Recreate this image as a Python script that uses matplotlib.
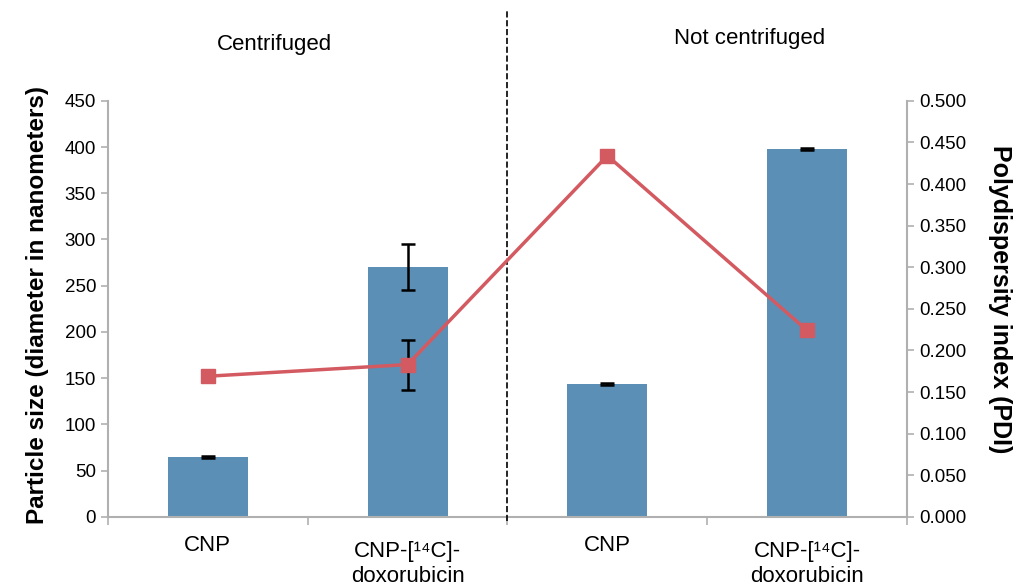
import matplotlib
matplotlib.use('Agg')
import matplotlib.pyplot as plt

plt.rcParams['font.family'] = ['Liberation Sans', 'DejaVu Sans']

# Data
categories = ['CNP', 'CNP-[\u00b9\u2074C]-\ndoxorubicin', 'CNP', 'CNP-[\u00b9\u2074C]-\ndoxorubicin']
size_nm = [65, 270, 144, 398]
size_err = [1, 25, 1, 1]
pdi = [0.169, 0.183, 0.434, 0.224]
pdi_err = [0, 0.03, 0, 0]
group_labels = ['Centrifuged', 'Not centrifuged']

bar_color = '#5b8fb5'
line_color = '#d45a61'
axis_gray = '#b0b0b0'

fig = plt.figure(figsize=(10.18, 5.86), dpi=100)
ax = fig.add_axes([0.106, 0.118, 0.785, 0.710])
ax2 = ax.twinx()

x = list(range(len(categories)))
ax.bar(x, size_nm, width=0.4, color=bar_color, zorder=2)
ax.errorbar(x, size_nm, yerr=size_err, fmt='none', ecolor='black',
            elinewidth=1.8, capsize=5, capthick=1.8, zorder=3)

ax2.plot(x, pdi, color=line_color, lw=2.5, marker='s', markersize=10, zorder=4)
ax2.errorbar(x, pdi, yerr=pdi_err, fmt='none', ecolor='black',
             elinewidth=1.8, capsize=5, capthick=1.8, zorder=3)

ax.set_xlim(-0.5, 3.5)
ax.set_ylim(0, 450)
ax.set_yticks(range(0, 451, 50))
ax2.set_ylim(0, 0.5)
ax2.set_yticks([i * 0.05 for i in range(11)])
ax2.set_yticklabels([f"{i * 0.05:.3f}" for i in range(11)])

# category labels: placed as text so one-line and two-line labels sit like the original
ax.set_xticks([-0.5, 0.5, 1.5, 2.5, 3.5])
ax.set_xticklabels([])
ax.tick_params(axis='x', length=6, color=axis_gray, width=1.2)
for i, lab in enumerate(categories):
    ypos = -0.058 if '\n' in lab else -0.044
    ax.text(i, ypos, lab, transform=ax.get_xaxis_transform(),
            ha='center', va='top', fontsize=16, linespacing=1.28)

for a in (ax, ax2):
    a.tick_params(axis='y', labelsize=13.5, color=axis_gray, width=1.2, length=5)
    for s in a.spines.values():
        s.set_visible(False)
ax.spines['left'].set_visible(True)
ax.spines['bottom'].set_visible(True)
ax2.spines['right'].set_visible(True)
for s in (ax.spines['left'], ax.spines['bottom'], ax2.spines['right']):
    s.set_color(axis_gray)
    s.set_linewidth(1.5)

ax.set_ylabel('Particle size (diameter in nanometers)', fontsize=17.5, fontweight='bold', labelpad=11)
ax.yaxis.label.set_y(0.51)
ax2.set_ylabel('Polydispersity index (PDI)', fontsize=18, fontweight='bold',
               rotation=270, labelpad=33)
ax2.yaxis.label.set_y(0.524)

# Dashed separator between the two groups
ax.plot([1.5, 1.5], [-0.01, 1.22], transform=ax.get_xaxis_transform(),
        color='black', ls='--', lw=1.2, clip_on=False, zorder=5)

ax.text(0.209, 1.135, group_labels[0], transform=ax.transAxes, fontsize=16,
        ha='center', va='center')
ax.text(0.803, 1.15, group_labels[1], transform=ax.transAxes, fontsize=16,
        ha='center', va='center')

fig.savefig('out.png', dpi=100)
